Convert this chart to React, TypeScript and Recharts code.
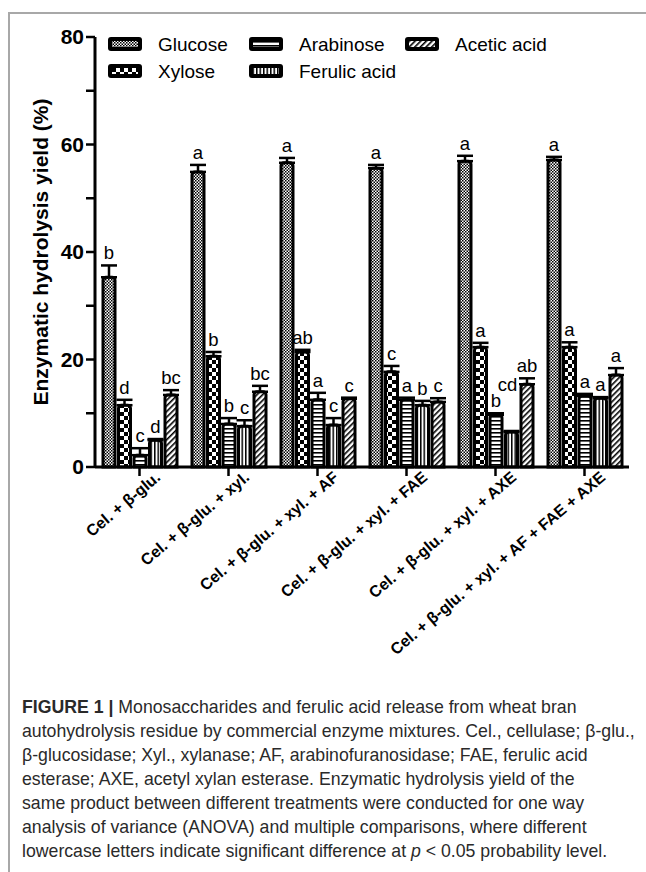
import React from "react"
import { BarChart, Bar, XAxis, YAxis, ErrorBar, LabelList, Legend } from "recharts"

const CATEGORIES = [
  "Cel. + β-glu.",
  "Cel. + β-glu. + xyl.",
  "Cel. + β-glu. + xyl. + AF",
  "Cel. + β-glu. + xyl. + FAE",
  "Cel. + β-glu. + xyl. + AXE",
  "Cel. + β-glu. + xyl. + AF + FAE + AXE",
]

const GLUCOSE = [35.3, 54.9, 56.6, 55.6, 56.9, 57.1]
const XYLOSE = [11.5, 20.6, 21.4, 17.7, 22.3, 22.3]
const ARABINOSE = [2.2, 8.0, 12.5, 12.5, 9.7, 13.2]
const FERULIC = [5.0, 7.6, 7.8, 11.5, 6.5, 12.8]
const ACETIC = [13.4, 14.0, 12.7, 12.1, 15.4, 17.1]

const GLUCOSE_ERR = [2.2, 1.3, 0.9, 0.6, 1.0, 0.6]
const XYLOSE_ERR = [1.0, 0.8, 0.4, 1.1, 0.8, 0.9]
const ARABINOSE_ERR = [1.3, 1.1, 1.3, 0.4, 0.3, 0.4]
const FERULIC_ERR = [0.2, 1.1, 1.3, 0.8, 0.2, 0.2]
const ACETIC_ERR = [0.9, 1.1, 0.2, 0.7, 1.1, 1.3]

const GLUCOSE_SIG = ["b", "a", "a", "a", "a", "a"]
const XYLOSE_SIG = ["d", "b", "ab", "c", "a", "a"]
const ARABINOSE_SIG = ["c", "b", "a", "a", "b", "a"]
const FERULIC_SIG = ["d", "c", "c", "b", "cd", "a"]
const ACETIC_SIG = ["bc", "bc", "c", "c", "ab", "a"]

const Y_TICKS = [0, 10, 20, 30, 40, 50, 60, 70, 80]

const SERIES = [
  { key: "glucose", name: "Glucose", pattern: "pGlu", values: GLUCOSE, errs: GLUCOSE_ERR, sig: GLUCOSE_SIG },
  { key: "xylose", name: "Xylose", pattern: "pXyl", values: XYLOSE, errs: XYLOSE_ERR, sig: XYLOSE_SIG },
  { key: "arabinose", name: "Arabinose", pattern: "pAra", values: ARABINOSE, errs: ARABINOSE_ERR, sig: ARABINOSE_SIG },
  { key: "ferulic", name: "Ferulic acid", pattern: "pFer", values: FERULIC, errs: FERULIC_ERR, sig: FERULIC_SIG },
  { key: "acetic", name: "Acetic acid", pattern: "pAce", values: ACETIC, errs: ACETIC_ERR, sig: ACETIC_SIG },
]

// the "cd" letter sits higher and a bit left of its bar in the original
const NUDGE: Record<string, [number, number]> = { "ferulic-4": [-4, 34] }

const data = CATEGORIES.map((name, i) => {
  const row: any = { name }
  SERIES.forEach((s) => {
    row[s.key] = s.values[i]
    row[s.key + "Err"] = [0, s.errs[i]]
    row[s.key + "Sig"] = s.sig[i]
  })
  return row
})

const FONT = "'Liberation Sans', Arial, Helvetica, sans-serif"

const makeSigLabel = (s: any) => (props: any) => {
  const vb = props.viewBox || props
  const x = props.x ?? vb.x
  const y = props.y ?? vb.y
  const width = props.width ?? vb.width
  const height = Math.abs(props.height ?? vb.height)
  const i = props.index
  const pxPerUnit = height / s.values[i]
  const top = y - s.errs[i] * pxPerUnit
  const [dx, lift] = NUDGE[s.key + "-" + i] || [0, 0]
  return (
    <text x={x + width / 2 + dx} y={top - 6 - lift} textAnchor="middle" fontSize={18.5} fontFamily={FONT} fill="#000">
      {props.value}
    </text>
  )
}

const XTick = ({ x, y, payload }: any) => (
  <g transform={`translate(${x + 22},${y + 1})`}>
    <text transform="rotate(-40)" textAnchor="end" fontSize={16} fontWeight="bold" fontFamily={FONT} fill="#000">
      {payload.value}
    </text>
  </g>
)

const renderLegend = (props: any) => {
  const items = props.payload || []
  const colX = [0, 141, 297]
  return (
    <svg width={520} height={60}>
      {items.map((it: any, i: number) => {
        const s = SERIES.find((q) => q.name === it.value) || SERIES[i]
        const idx = SERIES.indexOf(s)
        const cx = colX[Math.floor(idx / 2)]
        const cy = (idx % 2) * 27
        return (
          <g key={s.key} transform={`translate(${cx},${cy})`}>
            <rect x={0} y={4} width={34} height={14} rx={3} fill="#000" />
            <rect x={4} y={8} width={26} height={6} fill={`url(#${s.pattern})`} />
            <text x={50} y={18} fontSize={19} fontFamily={FONT} fill="#000">
              {s.name}
            </text>
          </g>
        )
      })}
    </svg>
  )
}

export default function App() {
  return (
    <div style={{ position: "absolute", left: 0, top: 0, width: 646, height: 872, background: "#fff", overflow: "hidden" }}>
      <div
        style={{
          position: "absolute",
          left: 8,
          top: 12,
          width: 660,
          height: 880,
          borderTop: "2px solid #a8a8a8",
          borderLeft: "2px solid #a8a8a8",
        }}
      />
      <div style={{ position: "absolute", left: 0, top: 0 }}>
        <BarChart
          width={646}
          height={700}
          data={data}
          margin={{ top: 37, right: 17, left: 33, bottom: 0 }}
          barSize={12}
          barGap={3.5}
        >
          <defs>
            <pattern id="pGlu" width="3" height="3" patternUnits="userSpaceOnUse">
              <rect width="3" height="3" fill="#fff" />
              <rect width="1.5" height="1.5" fill="#000" />
              <rect x="1.5" y="1.5" width="1.5" height="1.5" fill="#000" />
            </pattern>
            <pattern id="pXyl" width="8" height="8" patternUnits="userSpaceOnUse">
              <rect width="8" height="8" fill="#000" />
              <rect width="4" height="4" fill="#fff" />
              <rect x="4" y="4" width="4" height="4" fill="#fff" />
            </pattern>
            <pattern id="pAra" width="4" height="4" patternUnits="userSpaceOnUse">
              <rect width="4" height="4" fill="#fff" />
              <rect width="4" height="1.6" fill="#000" />
            </pattern>
            <pattern id="pFer" width="3.5" height="4" patternUnits="userSpaceOnUse">
              <rect width="3.5" height="4" fill="#fff" />
              <rect width="1.5" height="4" fill="#000" />
            </pattern>
            <pattern id="pAce" width="4" height="4" patternUnits="userSpaceOnUse" patternTransform="rotate(45)">
              <rect width="4" height="4" fill="#fff" />
              <rect width="1.6" height="4" fill="#000" />
            </pattern>
          </defs>
          <XAxis
            dataKey="name"
            height={233}
            interval={0}
            axisLine={{ stroke: "#000", strokeWidth: 3 }}
            tickLine={{ stroke: "#000", strokeWidth: 2.5 }}
            tickSize={9}
            tick={<XTick />}
          />
          <YAxis
            domain={[0, 80]}
            ticks={Y_TICKS}
            width={62}
            interval={0}
            axisLine={{ stroke: "#000", strokeWidth: 3 }}
            tickLine={{ stroke: "#000", strokeWidth: 2.5 }}
            tickSize={9}
            tickMargin={2}
            tickFormatter={(v: number) => (v % 20 === 0 ? String(v) : "")}
            tick={{ fontSize: 21, fontWeight: "bold", fontFamily: FONT, fill: "#000" }}
            label={(p: any) => {
              const vb = p.viewBox
              const cy = vb.y + vb.height / 2
              return (
                <text
                  x={40}
                  y={cy}
                  transform={`rotate(-90, 40, ${cy})`}
                  textAnchor="middle"
                  dominantBaseline="central"
                  fontSize={21}
                  fontWeight="bold"
                  fontFamily={FONT}
                  fill="#000"
                >
                  Enzymatic hydrolysis yield (%)
                </text>
              )
            }}
          />
          <Legend
            verticalAlign="middle"
            align="center"
            layout="horizontal"
            content={renderLegend}
            wrapperStyle={{ top: 33, left: 108, width: 520, height: 60 }}
          />
          {SERIES.map((s) => (
            <Bar
              key={s.key}
              dataKey={s.key}
              name={s.name}
              fill={`url(#${s.pattern})`}
              stroke="#000"
              strokeWidth={3}
              radius={[3, 3, 0, 0]}
              isAnimationActive={false}
            >
              <ErrorBar dataKey={s.key + "Err"} width={8} stroke="#000" strokeWidth={2.5} />
              <LabelList dataKey={s.key + "Sig"} content={makeSigLabel(s)} />
            </Bar>
          ))}
        </BarChart>
      </div>
      <div
        style={{
          position: "absolute",
          left: 22,
          top: 695,
          fontFamily: "'Liberation Sans', Arial, sans-serif",
          fontSize: 17.7,
          lineHeight: "24px",
          color: "#2a2a2a",
          whiteSpace: "nowrap",
        }}
      >
        <div>
          <b>FIGURE 1 |</b> Monosaccharides and ferulic acid release from wheat bran
        </div>
        <div>autohydrolysis residue by commercial enzyme mixtures. Cel., cellulase; β-glu.,</div>
        <div>β-glucosidase; Xyl., xylanase; AF, arabinofuranosidase; FAE, ferulic acid</div>
        <div>esterase; AXE, acetyl xylan esterase. Enzymatic hydrolysis yield of the</div>
        <div>same product between different treatments were conducted for one way</div>
        <div>analysis of variance (ANOVA) and multiple comparisons, where different</div>
        <div>
          lowercase letters indicate significant difference at <i>p</i> &lt; 0.05 probability level.
        </div>
      </div>
    </div>
  )
}
